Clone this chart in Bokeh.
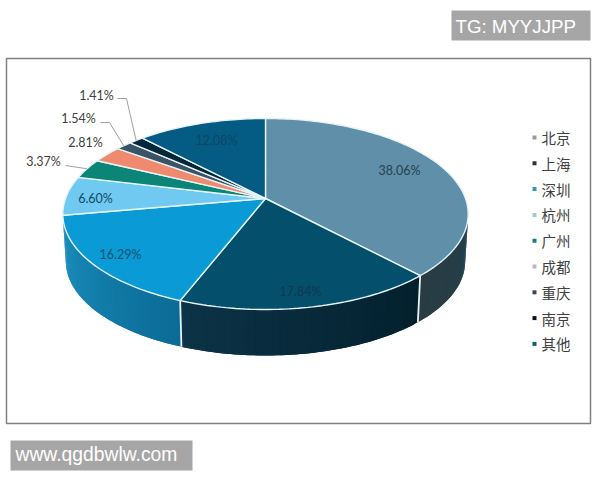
import numpy as np
from bokeh.plotting import figure
from bokeh.models import Range1d
from bokeh.core.properties import value
from bokeh.embed import file_html
from bokeh.resources import INLINE

# --- data
cities = ["北京", "上海", "深圳", "杭州", "广州", "成都", "重庆", "南京", "其他"]
shares = [38.06, 17.84, 16.29, 6.60, 3.37, 2.81, 1.54, 1.41, 12.08]
share_labels = ["38.06%", "17.84%", "16.29%", "6.60%", "3.37%", "2.81%", "1.54%", "1.41%", "12.08%"]

# --- styles
top_colors = ["#5f8fa9", "#044f6c", "#0a9bd6", "#6fc9f1", "#0b8577", "#ef8a6e", "#3a5466", "#04283a", "#045c85"]
legend_colors = ["#9a9a9a", "#333333", "#3a9ab0", "#a5c9cc", "#1f7f78", "#c9b5b0", "#444444", "#111111", "#0f5d70"]
side_stops = {0: ("#22404b", "#2a3c43"), 1: ("#03202d", "#0c3347"), 2: ("#0b6c97", "#1c90c0"), 3: ("#3f9bc4", "#3f9bc4")}
label_xy = [(399, 170), (300, 291), (120, 254), (95, 198), (43, 161), (85, 142), (78, 118), (96, 95), (216, 140)]
label_colors = ["#27424f", "#12384e", "#14506e", "#0f4a68", "#404040", "#404040", "#404040", "#404040", "#0f4560"]
# leader elbows (label side) for the small slices
leaders = {4: [(65, 165)], 6: [(100, 122), (109, 122)], 7: [(117, 98), (126, 98)]}

CX, CY, RX, RY, K = 265, 198, 200, 93, 0.162
DEPTH, SHRINK = 47.7, 0.985


def project(theta, bottom=False):
    u, v = np.sin(theta), -np.cos(theta)
    d = 1 - K * v
    x, y = RX * u / d, RY * v / d
    if bottom:
        return CX + SHRINK * x, CY + DEPTH + SHRINK * y
    return CX + x, CY + y


def hex_mix(a, b, t):
    ca = [int(a[i:i + 2], 16) for i in (1, 3, 5)]
    cb = [int(b[i:i + 2], 16) for i in (1, 3, 5)]
    return "#%02x%02x%02x" % tuple(int(round(p + (q - p) * t)) for p, q in zip(ca, cb))


edges = 2 * np.pi * np.cumsum([0] + shares) / sum(shares)
silhouette_r = np.arccos(-K)
silhouette_l = 2 * np.pi - silhouette_r

p = figure(width=600, height=480, output_backend="svg", toolbar_location=None,
           x_range=Range1d(0, 600), y_range=Range1d(480, 0), min_border=0,
           background_fill_color="white", border_fill_color="white")
p.axis.visible = False
p.grid.visible = False
p.outline_line_color = None

# frame
p.rect([298], [240.5], [584], [365], fill_color=None, line_color="#808080", line_width=1.5)
# watermarks
p.quad(left=[451], right=[590], top=[10], bottom=[40], fill_color="#a6a6a6", line_color=None)
p.quad(left=[10], right=[192], top=[440], bottom=[470], fill_color="#a6a6a6", line_color=None)
p.text([455], [26], text=["TG: MYYJJPP"], text_color="#ffffff", text_font=value("Liberation Sans"),
       text_font_size="18.7px", text_baseline="middle", text_align="left")
p.text([15], [454], text=["www.qgdbwlw.com"], text_color="#ffffff", text_font=value("Liberation Sans"),
       text_font_size="19.3px", text_baseline="middle", text_align="left")

# side wall: each strip overlaps the next so that no seams show
xs, ys, cs = [], [], []
for i, st in side_stops.items():
    a = max(edges[i], silhouette_r)
    b = min(edges[i + 1], silhouette_l)
    if b <= a:
        continue
    steps = max(2, int((b - a) / 0.02))
    ts = np.linspace(a, b, steps + 1)
    for j in range(steps):
        seg = ts[j:j + 3]
        x0, y0 = project(seg)
        x1, y1 = project(seg, True)
        xs.append(list(x0) + list(x1[::-1]))
        ys.append(list(y0) + list(y1[::-1]))
        cs.append(hex_mix(st[0], st[1], j / max(1, steps - 1)))
p.patches(xs, ys, fill_color=cs, line_color=None)

# wall dividers
for i in (0, 1):
    th = edges[i + 1]
    x0, y0 = project(th)
    x1, y1 = project(th, True)
    p.line([x0, x1], [y0, y1], line_color="#e8f2f5", line_width=1.8)

# top face
for i, col in enumerate(top_colors):
    ts = np.linspace(edges[i], edges[i + 1], max(3, int((edges[i + 1] - edges[i]) / 0.02)))
    x, y = project(ts)
    p.patch([CX] + list(x), [CY] + list(y), fill_color=col, line_color="#e6f4f8", line_width=1.4)

# leaders
for i, pts in leaders.items():
    mid = (edges[i] + edges[i + 1]) / 2
    ex, ey = project(mid)
    lx = [q[0] for q in pts] + [float(ex)]
    ly = [q[1] for q in pts] + [float(ey)]
    p.line(lx, ly, line_color="#a0a0a0", line_width=1)

# data labels
p.text([q[0] for q in label_xy], [q[1] for q in label_xy], text=share_labels, text_color=label_colors,
       text_font=value("Lato"), text_font_size="12.5px", text_align="center", text_baseline="middle")

# legend
ly = [137 + 25.8 * i for i in range(len(cities))]
p.scatter([534] * len(cities), ly, marker="square", size=4, fill_color=legend_colors, line_color=None)
p.text([541] * len(cities), ly, text=cities, text_color="#404040", text_font=value("Noto Sans CJK SC"),
       text_font_size="14.5px", text_align="left", text_baseline="middle")

open("out.html", "w").write(file_html(p, INLINE))
